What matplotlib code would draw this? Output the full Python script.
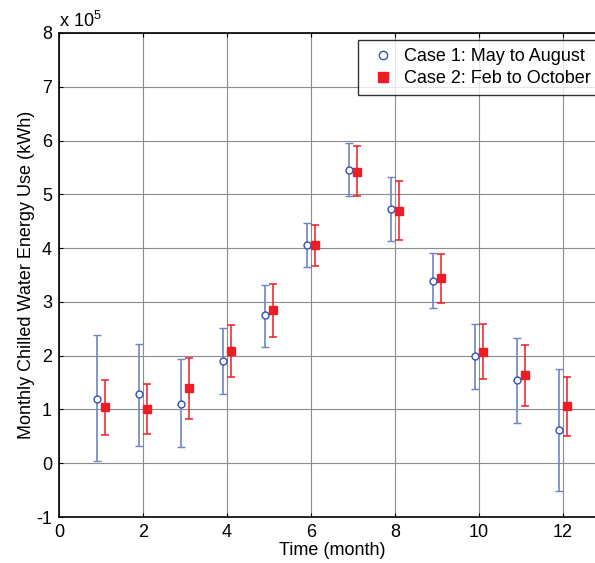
import matplotlib
matplotlib.use('Agg')
import matplotlib.pyplot as plt
from matplotlib.lines import Line2D
import numpy as np

plt.rcParams['font.family'] = ['Liberation Sans', 'DejaVu Sans']
plt.rcParams['axes.unicode_minus'] = False
plt.rcParams['mathtext.fontset'] = 'custom'
plt.rcParams['mathtext.rm'] = 'Liberation Sans'

months = np.arange(1, 13)

# Case 1: May to August (values in units of 1e5 kWh)
case1_mean = [1.20, 1.28, 1.11, 1.90, 2.75, 4.05, 5.46, 4.73, 3.39, 1.99, 1.54, 0.62]
case1_high = [2.38, 2.22, 1.93, 2.51, 3.31, 4.47, 5.96, 5.32, 3.90, 2.59, 2.33, 1.76]
case1_low = [0.04, 0.32, 0.30, 1.28, 2.17, 3.64, 4.96, 4.14, 2.88, 1.38, 0.74, -0.51]

# Case 2: Feb to October
case2_mean = [1.05, 1.00, 1.39, 2.09, 2.85, 4.05, 5.42, 4.69, 3.44, 2.07, 1.64, 1.06]
case2_high = [1.55, 1.48, 1.96, 2.57, 3.33, 4.43, 5.90, 5.24, 3.89, 2.59, 2.20, 1.60]
case2_low = [0.53, 0.55, 0.82, 1.61, 2.35, 3.67, 4.96, 4.16, 2.98, 1.57, 1.07, 0.51]

x_ticks = [0, 2, 4, 6, 8, 10, 12]
y_ticks = [-1, 0, 1, 2, 3, 4, 5, 6, 7, 8]

blue = '#3550b0'
blue_bar = '#6d84c6'
red = '#ee1c25'
fs = 13

fig = plt.figure(figsize=(5.95, 5.63), dpi=100)
# axes runs past the right edge of the figure, like the cropped original
ax = fig.add_axes([0.0992, 0.0817, 0.9176, 0.8597])

m1 = np.array(case1_mean)
m2 = np.array(case2_mean)
err1 = [m1 - np.array(case1_low), np.array(case1_high) - m1]
err2 = [m2 - np.array(case2_low), np.array(case2_high) - m2]

ax.errorbar(months - 0.1, m1, yerr=err1, fmt='o', mfc='white', mec=blue,
            mew=1.0, ms=5, ecolor=blue_bar, elinewidth=1.2, capsize=2.8,
            capthick=1.2, zorder=3)
ax.errorbar(months + 0.1, m2, yerr=err2, fmt='s', mfc=red, mec=red,
            ms=6, ecolor=red, elinewidth=1.1, capsize=2.8, capthick=1.1,
            zorder=3)

ax.set_xlim(0, 13)
ax.set_ylim(-1, 8)
ax.set_xticks(x_ticks)
ax.set_yticks(y_ticks)
ax.tick_params(direction='in', length=3, width=0.8, labelsize=fs,
               top=True, right=False)
ax.tick_params(axis='x', pad=5)
ax.tick_params(axis='y', pad=5)
ax.grid(True, color='#8c8c8c', linewidth=0.8, linestyle='-')
ax.set_axisbelow(True)
for side in ['left', 'bottom', 'top']:
    ax.spines[side].set_linewidth(1.2)
ax.spines['right'].set_visible(False)

ax.set_xlabel('Time (month)', fontsize=fs, labelpad=1)
ax.set_ylabel('Monthly Chilled Water Energy Use (kWh)', fontsize=fs, labelpad=1)

# exponent label as in MATLAB
ax.text(0.0, 1.004, r'x 10$^{5}$', transform=ax.transAxes, fontsize=fs,
        ha='left', va='bottom')

handles = [
    Line2D([], [], linestyle='none', marker='o', mfc='white', mec=blue,
           mew=1.0, ms=6),
    Line2D([], [], linestyle='none', marker='s', mfc=red, mec=red, ms=7),
]
labels = ['Case 1: May to August', 'Case 2: Feb to October']
leg = ax.legend(handles, labels, loc='upper left',
                bbox_to_anchor=(0.5476, 0.985),
                fontsize=fs, frameon=True, fancybox=False, edgecolor='black',
                borderpad=0.42, handletextpad=0.25, labelspacing=0.3,
                borderaxespad=0.0, handlelength=1.9)
leg.get_frame().set_linewidth(1.0)

fig.savefig('out.png', dpi=100)
